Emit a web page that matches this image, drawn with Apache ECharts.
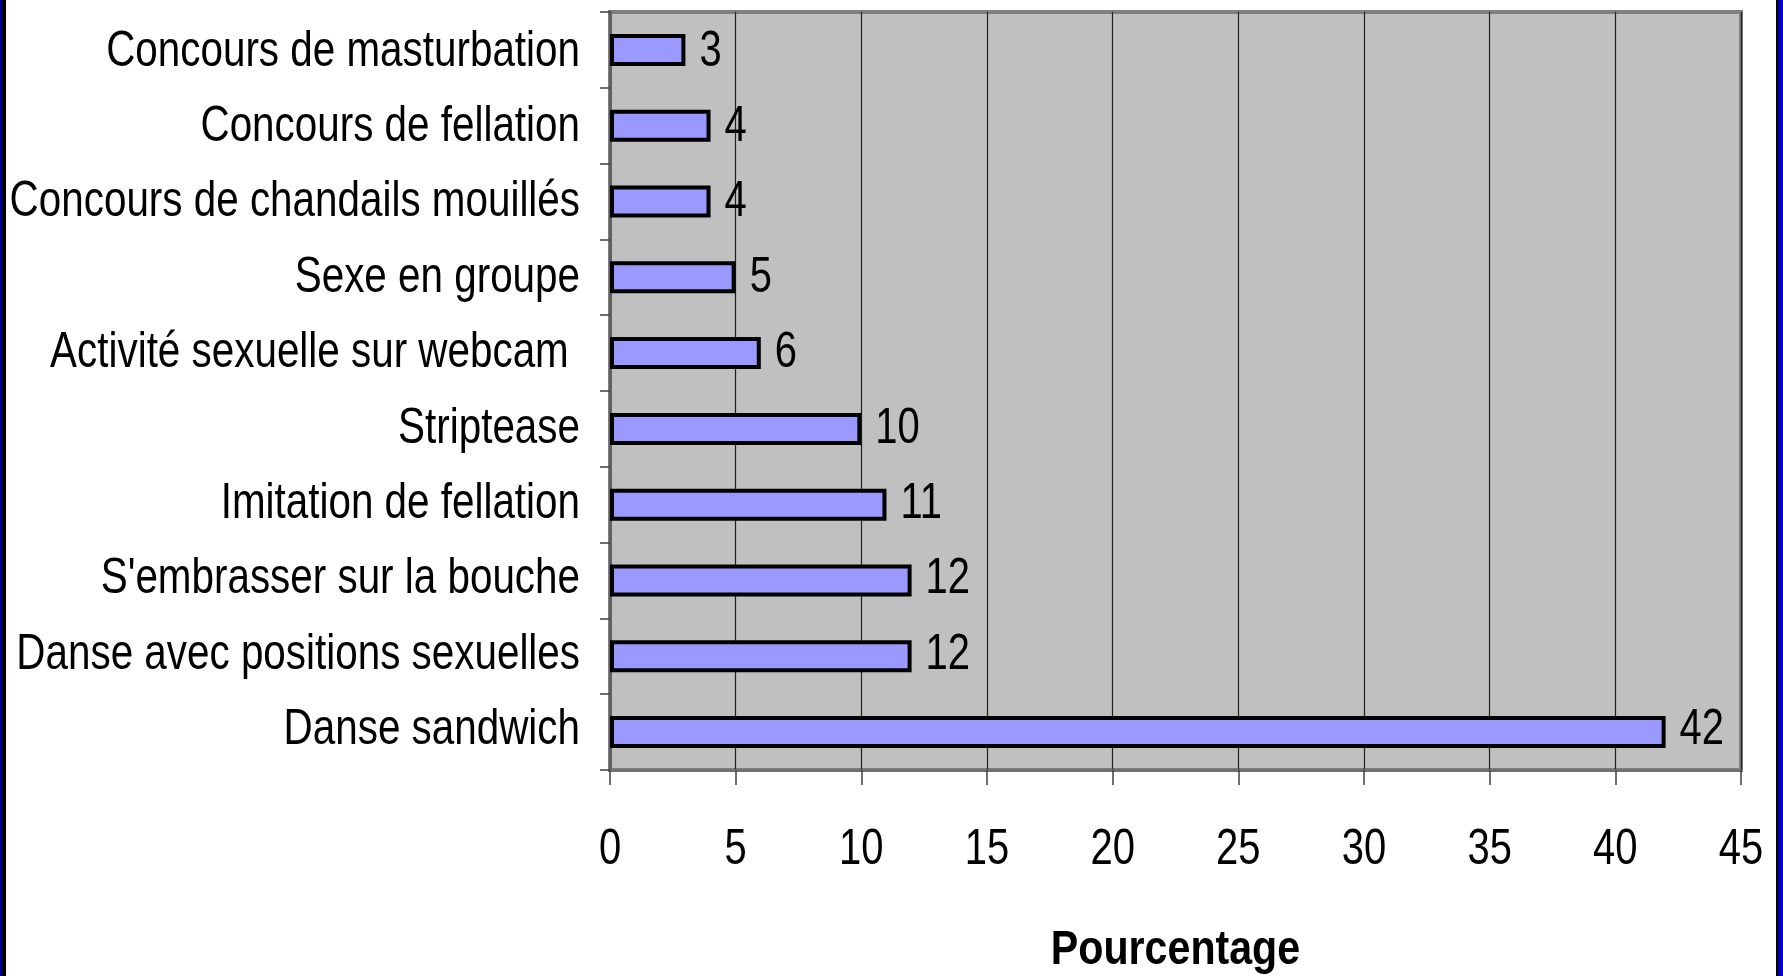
<!DOCTYPE html>
<html>
<head>
<meta charset="utf-8">
<script src="https://cdn.jsdelivr.net/npm/echarts@6/dist/echarts.min.js"></script>
<style>
html,body{margin:0;padding:0;background:#fff;}
#c{width:1783px;height:976px;}
</style>
</head>
<body>
<div id="c"></div>
<script>
var categories = [
  "Concours de masturbation",
  "Concours de fellation",
  "Concours de chandails mouillés",
  "Sexe en groupe",
  "Activité sexuelle sur webcam ",
  "Striptease",
  "Imitation de fellation",
  "S'embrasser sur la bouche",
  "Danse avec positions sexuelles",
  "Danse sandwich"
];
var values = [3, 4, 4, 5, 6, 10, 11, 12, 12, 42];
var xTickLabels = ["0", "5", "10", "15", "20", "25", "30", "35", "40", "45"];
var xMin = 0, xMax = 45, xInterval = 5;
var axisTitle = "Pourcentage";

var NARROW = 0.8;
var CAT_NARROW = 0.808;
var chart = echarts.init(document.getElementById('c'));
chart.setOption({
  animation: false,
  backgroundColor: '#ffffff',
  grid: {
    left: 610, right: 42, top: 12, bottom: 206,
    outerBoundsMode: 'none',
    containLabel: false,
    show: true, backgroundColor: '#C0C0C0',
    borderColor: '#808080', borderWidth: 4
  },
  xAxis: {
    type: 'value',
    min: xMin, max: xMax, interval: xInterval,
    axisLine: { show: true, lineStyle: { color: '#707070', width: 3 } },
    axisTick: { show: true, length: 15, lineStyle: { color: '#404040', width: 1.5 } },
    axisLabel: { show: false },
    splitLine: { show: true, lineStyle: { color: '#202020', width: 1.2 } }
  },
  yAxis: {
    type: 'category',
    data: categories,
    inverse: true,
    axisLine: { show: true, lineStyle: { color: '#606060', width: 3 } },
    axisTick: { show: true, length: 10, lineStyle: { color: '#404040', width: 1.5 } },
    axisLabel: { show: false },
    splitLine: { show: false }
  },
  series: [{
    type: 'bar',
    data: values,
    barWidth: 32,
    itemStyle: { color: '#9999FF', borderColor: '#000', borderWidth: 4 },
    label: { show: false }
  }]
});

function txt(x, y, s, align, size, weight, sx) {
  return {
    type: 'text', x: x, y: y, scaleX: sx || NARROW, z: 50,
    style: {
      text: s, fill: '#000', fontFamily: 'Liberation Sans, Arial, sans-serif',
      fontSize: size, fontWeight: weight || 'normal',
      align: align, verticalAlign: 'middle', x: 0, y: 0
    }
  };
}

var g = [
  { type: 'rect', shape: { x: 0, y: 0, width: 2, height: 976 }, style: { fill: '#0000A0' }, z: 100 },
  { type: 'rect', shape: { x: 2, y: 0, width: 4, height: 976 }, style: { fill: '#000000' }, z: 100 },
  { type: 'rect', shape: { x: 1776, y: 0, width: 2, height: 976 }, style: { fill: '#000000' }, z: 100 },
  { type: 'rect', shape: { x: 1778, y: 0, width: 5, height: 976 }, style: { fill: '#0000C0' }, z: 100 }
];
categories.forEach(function (c, i) {
  var p0 = chart.convertToPixel({ gridIndex: 0 }, [0, i]);
  g.push(txt(p0[0] - 30, p0[1] + 2 - i * 0.4, c, 'right', 50, 'normal', CAT_NARROW));
  var pv = chart.convertToPixel({ gridIndex: 0 }, [values[i], i]);
  g.push(txt(pv[0] + 14, pv[1] + 2 - i * 0.4, String(values[i]), 'left', 50));
});
var rect = chart.getModel().getComponent('grid', 0).coordinateSystem.getRect();
var baseY = rect.y + rect.height;
xTickLabels.forEach(function (t, k) {
  var px = chart.convertToPixel({ gridIndex: 0 }, [xMin + k * xInterval, 0])[0];
  g.push(txt(px, baseY + 80, t, 'center', 50));
});
g.push(txt(rect.x + rect.width / 2, baseY + 180, axisTitle, 'center', 49, 'bold', 0.84));
chart.setOption({ graphic: g });
</script>
</body>
</html>
